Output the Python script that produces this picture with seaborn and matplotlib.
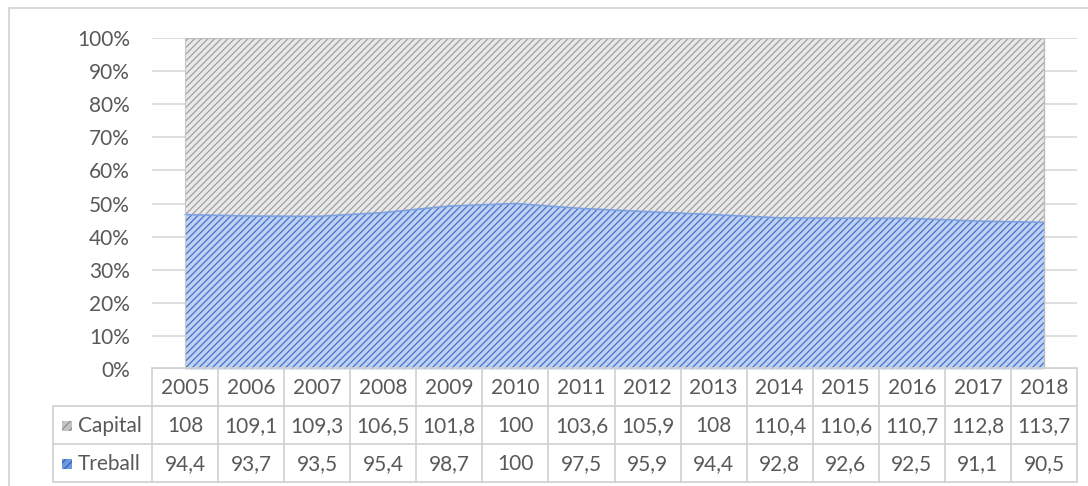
import numpy as np
import pandas as pd
import matplotlib
matplotlib.use("Agg")
from matplotlib import pyplot as plt
from matplotlib.patches import Rectangle
from matplotlib.lines import Line2D
import seaborn as sns

# data (index values, 2010 = 100)
years = [2005, 2006, 2007, 2008, 2009, 2010, 2011, 2012, 2013, 2014, 2015, 2016, 2017, 2018]
capital = [108, 109.1, 109.3, 106.5, 101.8, 100, 103.6, 105.9, 108, 110.4, 110.6, 110.7, 112.8, 113.7]
treball = [94.4, 93.7, 93.5, 95.4, 98.7, 100, 97.5, 95.9, 94.4, 92.8, 92.6, 92.5, 91.1, 90.5]
row_names = ["Capital", "Treball"]

df = pd.DataFrame({"year": years, "Capital": capital, "Treball": treball})
df["x"] = np.arange(len(df))
df["share_treball"] = df["Treball"] / (df["Treball"] + df["Capital"])
df["top"] = 1.0

sns.set_theme(style="white")
plt.rcParams["font.family"] = ["Lato", "DejaVu Sans"]
plt.rcParams["hatch.linewidth"] = 0.9

txt = "#595959"
gridc = "#d9d9d9"
fs = 15
W, H = 1088, 486

fig = plt.figure(figsize=(W / 100, H / 100), dpi=100)
ax = fig.add_axes([152 / W, 1 - 369 / H, (1077 - 152) / W, (369 - 38) / H])

# light fill, then hatch on top
ax.fill_between(df["x"], df["share_treball"], df["top"], facecolor="#e9e9e9", lw=0, zorder=2)
ax.fill_between(df["x"], df["share_treball"], df["top"], facecolor="none", hatch="/////",
                edgecolor="#a0a0a0", lw=0, zorder=3)
ax.fill_between(df["x"], 0, df["share_treball"], facecolor="#bfd1f2", lw=0, zorder=2)
ax.fill_between(df["x"], 0, df["share_treball"], facecolor="none", hatch="/////",
                edgecolor="#4272cc", lw=0, zorder=3)
sns.lineplot(data=df, x="x", y="share_treball", ax=ax, color="#7c9fe0", lw=1.2, zorder=4)
sns.lineplot(data=df, x="x", y="top", ax=ax, color="#bdbdbd", lw=1.0, zorder=4)
ax.plot([13, 13], [0, 1], color="#bdbdbd", lw=1.0, zorder=4)
ax.plot([0, 0], [0, 1], color="#c8c8c8", lw=0.8, zorder=4)

ax.set_xlim(-0.5, 13.5)
ax.set_ylim(0, 1)
ax.set_yticks(np.arange(0, 1.01, 0.1))
ax.set_yticklabels([f"{int(round(v * 100))}%" for v in np.arange(0, 1.01, 0.1)])
ax.set_xticks([])
ax.set_xlabel("")
ax.set_ylabel("")
ax.tick_params(axis="y", length=0, pad=16, labelsize=fs, labelcolor=txt)
ax.grid(axis="y", color=gridc, lw=1.2, zorder=0)
ax.set_axisbelow(True)
for s in ax.spines.values():
    s.set_visible(False)

# data table underneath
tax = fig.add_axes([152 / W, 1 - 482 / H, (1077 - 152) / W, (482 - 368) / H])
tax.set_xlim(-0.5, 13.5)
tax.set_ylim(3, 0)
tax.axis("off")
linec = "#d0d0d0"
unit = (1077 - 152) / 14
lab_left = -0.5 - (152 - 53) / unit
for r in range(4):
    x0 = -0.5 if r == 0 else lab_left
    tax.add_line(Line2D([x0, 13.5], [r, r], color=linec, lw=1.2, clip_on=False))
for i in range(15):
    tax.add_line(Line2D([i - 0.5, i - 0.5], [0, 3], color=linec, lw=1.2, clip_on=False))
tax.add_line(Line2D([lab_left, lab_left], [1, 3], color=linec, lw=1.2, clip_on=False))

fmt = lambda v: (f"{v:g}").replace(".", ",")
for i, y in enumerate(years):
    tax.text(i, 0.52, str(y), ha="center", va="center", fontsize=fs, color=txt)
    tax.text(i, 1.52, fmt(capital[i]), ha="center", va="center", fontsize=fs, color=txt)
    tax.text(i, 2.52, fmt(treball[i]), ha="center", va="center", fontsize=fs, color=txt)

mk_x = -0.5 + (62 - 152) / unit
mk_w = 10 / unit
mk_h = 10 / 38
styles = [("#c4c4c4", "#8e8e8e"), ("#7096dc", "#2f5fc0")]
for r, (name, (fc, hc)) in enumerate(zip(row_names, styles)):
    yc = 1.52 + r
    tax.add_patch(Rectangle((mk_x, yc - mk_h / 2), mk_w, mk_h, facecolor=fc, lw=0, clip_on=False))
    tax.add_patch(Rectangle((mk_x, yc - mk_h / 2), mk_w, mk_h, facecolor="none", hatch="////",
                            edgecolor=hc, lw=0, clip_on=False))
    tax.text(-0.5 + (78 - 152) / unit, yc, name, ha="left", va="center", fontsize=fs, color=txt)

# outer chart border
fig.add_artist(Line2D([9 / W, 1.05], [1 - 8 / H, 1 - 8 / H], color=gridc, lw=1.5))
fig.add_artist(Line2D([9 / W, 9 / W], [-0.05, 1 - 8 / H], color=gridc, lw=1.5))

fig.savefig("out.png", dpi=100)
